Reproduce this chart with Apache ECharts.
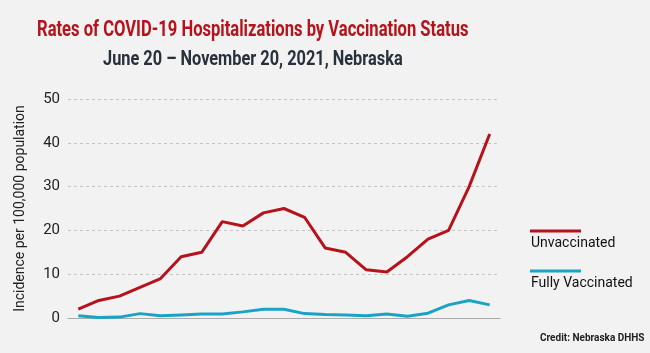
<!DOCTYPE html>
<html>
<head>
<meta charset="utf-8">
<script src="https://cdn.jsdelivr.net/npm/echarts@6/dist/echarts.min.js"></script>
<style>
  html, body { margin: 0; padding: 0; background: #f2f2f2; }
  #chart { width: 650px; height: 353px; }
</style>
</head>
<body>
<div id="chart"></div>
<script>
// weekly points, Jun 20 - Nov 20 2021
var weeks = ['6/20','6/27','7/4','7/11','7/18','7/25','8/1','8/8','8/15','8/22','8/29',
             '9/5','9/12','9/19','9/26','10/3','10/10','10/17','10/24','10/31','11/7'];
var unvaccinated = [2, 4, 5, 7, 9, 14, 15, 22, 21, 24, 25, 23, 16, 15, 11, 10.5, 14, 18, 20, 30, 42];
var fullyVaccinated = [0.5, 0.1, 0.2, 1, 0.5, 0.7, 0.9, 0.9, 1.4, 2, 2, 1, 0.8, 0.7, 0.5, 0.9, 0.4, 1.1, 3, 4, 3];
var yTicks = [0, 10, 20, 30, 40, 50];

var RED = '#b5121b';
var BLUE = '#1ba3c6';
var FONT = 'Roboto, sans-serif';

var chart = echarts.init(document.getElementById('chart'));
var option = {
    backgroundColor: '#f2f2f2',
    animation: false,
    grid: { left: 68, right: 150, top: 99, bottom: 35, containLabel: false },
    xAxis: {
        type: 'category',
        data: weeks,
        boundaryGap: true,
        axisLine: { lineStyle: { color: '#aaaaaa', width: 1 } },
        axisTick: { show: false },
        axisLabel: { show: false }
    },
    yAxis: {
        type: 'value',
        min: yTicks[0],
        max: yTicks[yTicks.length - 1],
        interval: 10,
        name: 'Incidence per 100,000 population',
        nameLocation: 'middle',
        nameRotate: 90,
        nameGap: 41,
        nameTextStyle: { color: '#222', fontSize: 14, fontFamily: FONT },
        axisLine: { show: false },
        axisTick: { show: false },
        axisLabel: { color: '#222', fontSize: 15, margin: 8, fontFamily: FONT },
        splitLine: { lineStyle: { color: '#c4c4c4', type: [3, 3], width: 1 } }
    },
    series: [{
        name: 'Unvaccinated',
        type: 'line',
        data: unvaccinated,
        symbol: 'none',
        lineStyle: { color: RED, width: 3 },
        z: 3
    }, {
        name: 'Fully Vaccinated',
        type: 'line',
        data: fullyVaccinated,
        symbol: 'none',
        lineStyle: { color: BLUE, width: 3 },
        z: 3
    }],
    graphic: [
        // titles drawn narrow to mimic the condensed face
        { type: 'text', x: 37, y: 30, scaleX: 0.754,
          style: { text: 'Rates of COVID-19 Hospitalizations by Vaccination Status', fill: RED,
                   font: 'bold 22px ' + FONT, textAlign: 'left', textVerticalAlign: 'middle' } },
        { type: 'text', x: 103, y: 60, scaleX: 0.817,
          style: { text: 'June 20 \u2013 November 20, 2021, Nebraska', fill: '#27303b',
                   font: 'bold 20px ' + FONT, textAlign: 'left', textVerticalAlign: 'middle' } },
        { type: 'line', shape: { x1: 530, y1: 231, x2: 581, y2: 231 }, style: { stroke: RED, lineWidth: 3 } },
        { type: 'text', left: 531, top: 236, style: { text: 'Unvaccinated', fill: '#111', font: '14px ' + FONT } },
        { type: 'line', shape: { x1: 530, y1: 271, x2: 581, y2: 271 }, style: { stroke: BLUE, lineWidth: 3 } },
        { type: 'text', left: 531, top: 276, style: { text: 'Fully Vaccinated', fill: '#111', font: '14px ' + FONT } },
        { type: 'text', x: 540, y: 338,
          style: { text: 'Credit: Nebraska DHHS', fill: '#222', font: 'bold 10px ' + FONT,
                   textAlign: 'left', textVerticalAlign: 'middle' } }
    ]
};
chart.setOption(option);
window.onresize = function () { chart.resize(); };
</script>
</body>
</html>
